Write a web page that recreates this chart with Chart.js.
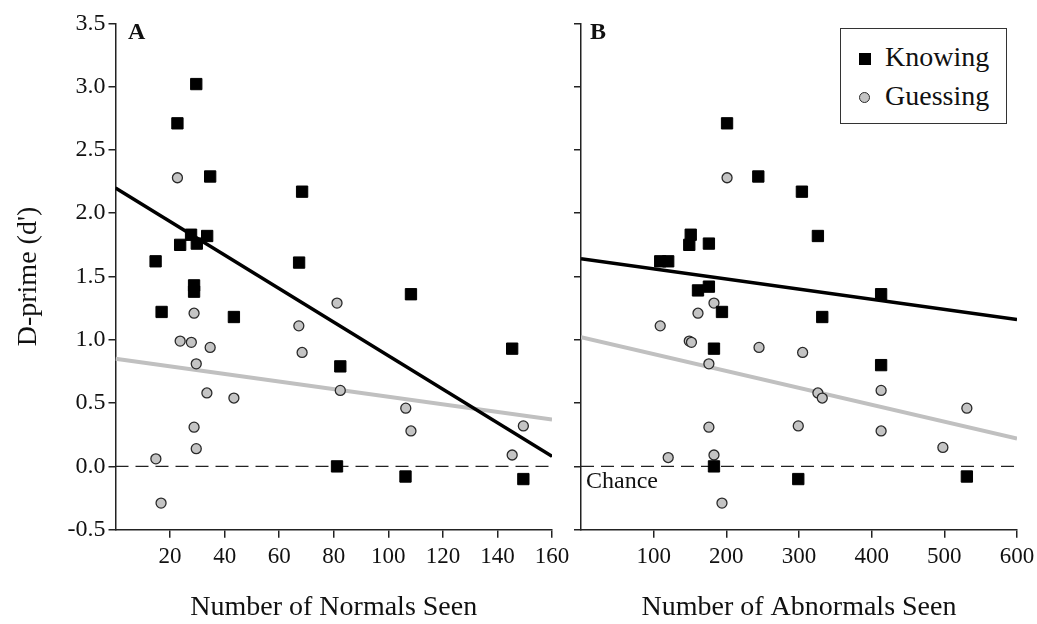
<!DOCTYPE html>
<html>
<head>
<meta charset="utf-8">
<script src="https://cdn.jsdelivr.net/npm/chart.js@4.4.0/dist/chart.umd.min.js"></script>
<style>
  html, body { margin: 0; padding: 0; background: #fff; overflow: hidden; }
  #wrap { position: relative; width: 1037px; height: 624px; font-family: "Liberation Serif", "Times New Roman", serif; color: #111; }
  canvas { position: absolute; top: 0; }
  #chartA { left: 0; }
  #chartB { left: 555px; }
  .tag { position: absolute; font-weight: bold; font-size: 24px; line-height: 24px; }
  #chance { position: absolute; left: 586px; top: 468px; font-size: 24px; line-height: 24px; }
  #legend { position: absolute; left: 840px; top: 28px; width: 165px; height: 94px; border: 1.5px solid #333; background: #fff; }
  .row { position: absolute; left: 44px; font-size: 28px; line-height: 28px; white-space: nowrap; }
  .mk { position: absolute; box-sizing: border-box; }
</style>
</head>
<body>
<div id="wrap">
  <canvas id="chartA" width="580" height="624"></canvas>
  <canvas id="chartB" width="490" height="624"></canvas>
  <div class="tag" style="left:128px; top:19px;">A</div>
  <div class="tag" style="left:590px; top:19px;">B</div>
  <div id="chance">Chance</div>
  <div id="legend">
    <span class="mk" style="left:18px; top:24px; width:12px; height:12px; background:#000;"></span>
    <div class="row" style="top:14px;">Knowing</div>
    <span class="mk" style="left:18px; top:63px; width:11px; height:11px; border-radius:50%; background:#c4c4c4; border:1.3px solid #2a2a2a;"></span>
    <div class="row" style="top:53px;">Guessing</div>
  </div>
</div>
<script>
// Panel A: number of normals seen
const normalsKnowingX = [29.6, 22.7, 34.7, 68.4, 27.7, 33.6, 23.7, 29.8, 14.7, 67.3, 28.8, 28.8, 16.9, 43.4, 108.3, 82.4, 145.4, 81.2, 106.3, 149.5];
const normalsKnowingY = [3.02, 2.71, 2.29, 2.17, 1.83, 1.82, 1.75, 1.76, 1.62, 1.61, 1.43, 1.38, 1.22, 1.18, 1.36, 0.79, 0.93, 0.00, -0.08, -0.10];
const normalsGuessingX = [22.7, 81.2, 28.8, 67.2, 23.7, 27.8, 34.7, 68.4, 29.6, 33.5, 43.4, 82.4, 106.4, 108.3, 149.5, 28.8, 29.6, 14.8, 145.4, 16.7];
const normalsGuessingY = [2.28, 1.29, 1.21, 1.11, 0.99, 0.98, 0.94, 0.90, 0.81, 0.58, 0.54, 0.60, 0.46, 0.28, 0.32, 0.31, 0.14, 0.06, 0.09, -0.29];

// Panel B: number of abnormals seen
const abnormalsKnowingX = [201, 244, 304, 326, 151, 149, 176, 109, 120, 161, 176, 194, 332, 183, 413, 413, 183, 299, 531];
const abnormalsKnowingY = [2.71, 2.29, 2.17, 1.82, 1.83, 1.75, 1.76, 1.62, 1.62, 1.39, 1.42, 1.22, 1.18, 0.93, 1.36, 0.80, 0.00, -0.10, -0.08];
const abnormalsGuessingX = [201, 183, 161, 109, 149, 152, 245, 305, 176, 326, 332, 413, 413, 531, 498, 299, 176, 120, 183, 194];
const abnormalsGuessingY = [2.28, 1.29, 1.21, 1.11, 0.99, 0.98, 0.94, 0.90, 0.81, 0.58, 0.54, 0.60, 0.28, 0.46, 0.15, 0.32, 0.31, 0.07, 0.09, -0.29];

// regression line end points
const normalsFitX = [0, 160];
const normalsKnowingFit = [2.20, 0.08];
const normalsGuessingFit = [0.85, 0.37];
const abnormalsFitX = [0, 600];
const abnormalsKnowingFit = [1.64, 1.16];
const abnormalsGuessingFit = [1.02, 0.22];
const chanceY = [0, 0];

const yTicks = [-0.5, 0, 0.5, 1, 1.5, 2, 2.5, 3, 3.5];

const FONT = '"Liberation Serif", "Times New Roman", serif';
const AXIS = '#222';

function zip(xs, ys) {
    return xs.map((x, i) => ({ x: x, y: ys[i] }));
}

function makeDatasets(kx, ky, gx, gy, fitX, kFit, gFit) {
    return [
        {
            data: zip(kx, ky),
            pointStyle: 'rect',
            pointRadius: 8,
            backgroundColor: '#000',
            borderColor: '#000',
            borderWidth: 1
        },
        {
            data: zip(gx, gy),
            pointStyle: 'circle',
            pointRadius: 5,
            backgroundColor: '#c4c4c4',
            borderColor: '#2a2a2a',
            borderWidth: 1.3
        },
        {
            data: zip(fitX, kFit),
            showLine: true,
            pointRadius: 0,
            borderColor: '#000',
            borderWidth: 3.5
        },
        {
            data: zip(fitX, gFit),
            showLine: true,
            pointRadius: 0,
            borderColor: '#c0c0c0',
            borderWidth: 4
        },
        {
            data: zip(fitX, chanceY),
            showLine: true,
            pointRadius: 0,
            borderColor: '#222',
            borderWidth: 1.4,
            borderDash: [13, 7]
        }
    ];
}

function makeOptions(opts) {
    return {
        responsive: false,
        animation: false,
        layout: { padding: { top: 23.3, right: 28, bottom: 0, left: 0 } },
        plugins: { legend: { display: false }, tooltip: { enabled: false } },
        scales: {
            x: {
                type: 'linear',
                min: opts.xMin,
                max: opts.xMax,
                afterBuildTicks: (s) => { s.ticks = s.ticks.filter(t => t.value !== 0); },
                afterFit: (s) => { s.height = 94.3; },
                ticks: {
                    stepSize: opts.xStep,
                    autoSkip: false,
                    maxRotation: 0,
                    padding: 5,
                    color: '#111',
                    font: { family: FONT, size: 23 }
                },
                grid: { drawOnChartArea: false, drawTicks: true, tickLength: 8, color: AXIS, lineWidth: 1.5 },
                border: { display: true, color: AXIS, width: 1.5 },
                title: {
                    display: true,
                    text: opts.xTitle,
                    color: '#111',
                    padding: { top: 0, bottom: 0 },
                    font: { family: FONT, size: 28 }
                }
            },
            y: {
                type: 'linear',
                min: -0.5,
                max: 3.5,
                afterBuildTicks: (s) => { s.ticks = yTicks.map(v => ({ value: v })); },
                afterFit: (s) => { s.width = opts.yWidth; },
                ticks: {
                    display: opts.yLabels,
                    padding: 3,
                    color: '#111',
                    font: { family: FONT, size: 24 },
                    callback: (v) => Number(v).toFixed(1)
                },
                grid: { drawOnChartArea: false, drawTicks: true, tickLength: 7, color: AXIS, lineWidth: 1.5 },
                border: { display: true, color: AXIS, width: 1.5 },
                title: {
                    display: opts.yLabels,
                    text: "D-prime (d')",
                    color: '#111',
                    padding: { top: 12, bottom: 0 },
                    font: { family: FONT, size: 28 }
                }
            }
        }
    };
}

new Chart(document.getElementById('chartA'), {
    type: 'scatter',
    data: {
        datasets: makeDatasets(normalsKnowingX, normalsKnowingY, normalsGuessingX, normalsGuessingY,
            normalsFitX, normalsKnowingFit, normalsGuessingFit)
    },
    options: makeOptions({ xMin: 0, xMax: 160, xStep: 20, xTitle: 'Number of Normals Seen', yWidth: 115.5, yLabels: true })
});

new Chart(document.getElementById('chartB'), {
    type: 'scatter',
    data: {
        datasets: makeDatasets(abnormalsKnowingX, abnormalsKnowingY, abnormalsGuessingX, abnormalsGuessingY,
            abnormalsFitX, abnormalsKnowingFit, abnormalsGuessingFit)
    },
    options: makeOptions({ xMin: 0, xMax: 600, xStep: 100, xTitle: 'Number of Abnormals Seen', yWidth: 26, yLabels: false })
});
</script>
</body>
</html>
